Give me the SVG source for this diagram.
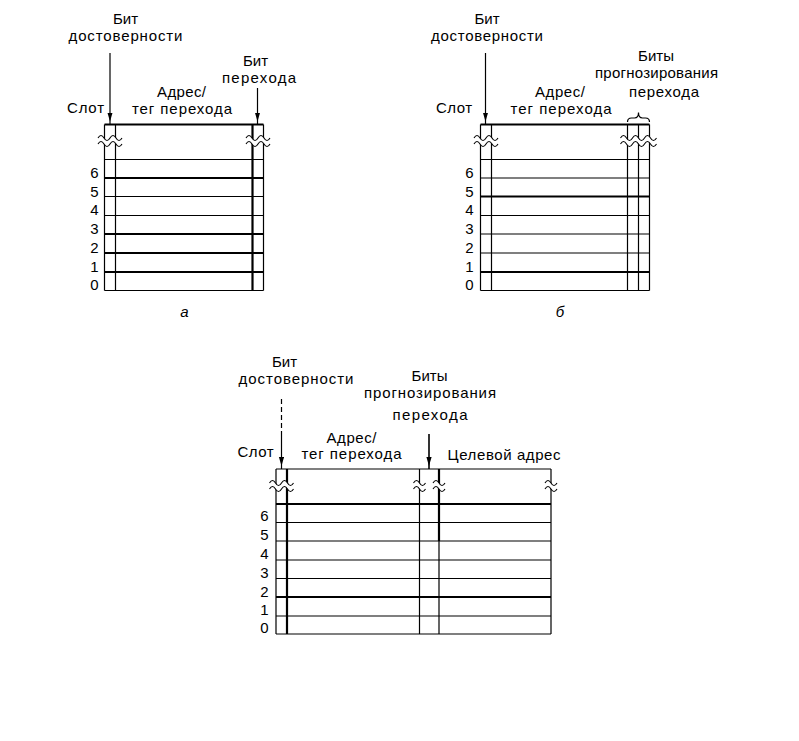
<svg xmlns="http://www.w3.org/2000/svg" xmlns:xlink="http://www.w3.org/1999/xlink" width="799" height="741" viewBox="0 0 799 741">
<style>
text{font-family:"Liberation Sans",Arial,sans-serif;font-size:15px;fill:#000}
.lb{text-anchor:middle}
.num{font-size:15px;text-anchor:end}
.cap{font-size:15px;font-style:italic;text-anchor:middle}
.ln{stroke:#000;stroke-width:1.2;fill:none}
.tk{stroke:#000;stroke-width:2.2;fill:none}
.ar{stroke:#000;stroke-width:1.2;fill:none;marker-end:url(#ah)}
.dash{stroke:#000;stroke-width:1.2;fill:none;stroke-dasharray:5 3}
.wf{fill:#fff;stroke:none}
.ws{fill:none;stroke:#000;stroke-width:1.1}
</style>
<defs>
<marker id="ah" markerUnits="userSpaceOnUse" markerWidth="14" markerHeight="8" refX="12" refY="2.6" orient="auto">
<path d="M0,0 L9,2.6 L0,5.2 Z" fill="#000"/>
</marker>
<g id="w1">
<path class="wf" d="M0,0 q3,-5 6,0 t6,0 L12,6 q-3,5 -6,0 t-6,0 Z"/>
<path class="ws" d="M0,0 q3,-5 6,0 t6,0 M0,6 q3,-5 6,0 t6,0"/>
</g>
<g id="w2">
<path class="wf" d="M0,0 q3,-5 6,0 t6,0 t6,0 t6,0 L24,6 q-3,5 -6,0 t-6,0 t-6,0 t-6,0 Z"/>
<path class="ws" d="M0,0 q3,-5 6,0 t6,0 t6,0 t6,0 M0,6 q3,-5 6,0 t6,0 t6,0 t6,0"/>
</g>
<g id="w3">
<path class="wf" d="M0,0 q3,-5 6,0 t6,0 t6,0 t6,0 t6,0 t6,0 L36,6 q-3,5 -6,0 t-6,0 t-6,0 t-6,0 t-6,0 t-6,0 Z"/>
<path class="ws" d="M0,0 q3,-5 6,0 t6,0 t6,0 t6,0 t6,0 t6,0 M0,6 q3,-5 6,0 t6,0 t6,0 t6,0 t6,0 t6,0"/>
</g>
</defs>
<rect width="799" height="741" fill="#fff"/>

<!-- Diagram a -->
<g id="table-a">
<path class="ln" d="M104.5,124.5 V290.5 M115.5,124.5 V290.5 M263.5,124.5 V290.5"/>
<path class="tk" d="M252.5,124.5 V290.5"/>
<path class="tk" d="M104.5,124.5 H263.5"/>
<path class="ln" d="M104.5,159.5 H263.5 M104.5,196.5 H263.5 M104.5,215.5 H263.5 M104.5,290.5 H263.5"/>
<path class="tk" d="M104.5,178 H263.5 M104.5,234 H263.5 M104.5,253 H263.5 M104.5,272 H263.5"/>
<use xlink:href="#w2" x="98" y="138"/>
<use xlink:href="#w2" x="246" y="138"/>
<text class="num" x="98.5" y="178">6</text>
<text class="num" x="98.5" y="196.5">5</text>
<text class="num" x="98.5" y="215">4</text>
<text class="num" x="98.5" y="234">3</text>
<text class="num" x="98.5" y="252.5">2</text>
<text class="num" x="98.5" y="271.5">1</text>
<text class="num" x="98.5" y="290">0</text>
</g>
<g id="labels-a">
<text class="lb" x="125.5" y="24">Бит</text>
<text class="lb" x="125.5" y="41" textLength="114">достоверности</text>
<text x="67" y="113" textLength="37">Слот</text>
<text class="lb" x="181.5" y="97" textLength="49">Адрес/</text>
<text class="lb" x="182" y="114" textLength="100">тег перехода</text>
<text class="lb" x="255.5" y="66">Бит</text>
<text class="lb" x="259" y="83" textLength="74">перехода</text>
<text class="cap" x="184.5" y="317">а</text>
</g>

<!-- Diagram b -->
<g id="table-b">
<path class="ln" d="M480.5,124.5 V290.5 M491.5,124.5 V290.5 M627.5,124.5 V290.5 M638.5,124.5 V290.5 M649.5,124.5 V290.5"/>
<path class="tk" d="M480.5,124.5 H649.5"/>
<path class="ln" d="M480.5,159.5 H649.5 M480.5,178 H649.5 M480.5,215.5 H649.5 M480.5,234 H649.5 M480.5,253 H649.5 M480.5,290.5 H649.5"/>
<path class="tk" d="M480.5,196.5 H649.5 M480.5,272 H649.5"/>
<use xlink:href="#w2" x="474" y="138"/>
<use xlink:href="#w3" x="620.5" y="138"/>
<path class="ln" d="M627.5,122 q0,-4 4,-4 h3 q4,0 4,-5.5 q0,5.5 4,5.5 h3 q4,0 4,4"/>
<text class="num" x="473.5" y="178">6</text>
<text class="num" x="473.5" y="196.5">5</text>
<text class="num" x="473.5" y="215">4</text>
<text class="num" x="473.5" y="234">3</text>
<text class="num" x="473.5" y="252.5">2</text>
<text class="num" x="473.5" y="271.5">1</text>
<text class="num" x="473.5" y="290">0</text>
</g>
<g id="labels-b">
<text class="lb" x="487" y="24">Бит</text>
<text class="lb" x="487" y="41" textLength="112">достоверности</text>
<text x="436" y="113" textLength="36">Слот</text>
<text class="lb" x="560" y="97" textLength="50">Адрес/</text>
<text class="lb" x="561" y="114" textLength="101">тег перехода</text>
<text class="lb" x="656" y="61">Биты</text>
<text class="lb" x="656.5" y="78" textLength="123">прогнозирования</text>
<text class="lb" x="664" y="97" textLength="70">перехода</text>
<text class="cap" x="560" y="317">б</text>
</g>

<!-- Diagram c -->
<g id="table-c">
<path class="ln" d="M276,469 V634 M419.5,469 V634 M551,469 V634 M439,541 V634"/>
<path class="tk" d="M287,469 V634 M439,469 V541"/>
<path class="ln" d="M276,469 H551"/>
<path class="ln" d="M276,522.5 H551 M276,541 H551 M276,560 H551 M276,578.5 H551 M276,616 H551 M276,634 H551"/>
<path class="tk" d="M276,504 H551 M276,597 H551"/>
<use xlink:href="#w2" x="269.5" y="483"/>
<use xlink:href="#w1" x="413.5" y="483"/>
<use xlink:href="#w1" x="433" y="483"/>
<use xlink:href="#w1" x="545" y="483"/>
<text class="num" x="268.5" y="521">6</text>
<text class="num" x="268.5" y="540">5</text>
<text class="num" x="268.5" y="559">4</text>
<text class="num" x="268.5" y="578">3</text>
<text class="num" x="268.5" y="596.5">2</text>
<text class="num" x="268.5" y="615">1</text>
<text class="num" x="268.5" y="633">0</text>
</g>
<g id="labels-c">
<text class="lb" x="284.5" y="367">Бит</text>
<text class="lb" x="296" y="383.5" textLength="115">достоверности</text>
<text x="237.5" y="457" textLength="36">Слот</text>
<text class="lb" x="351.5" y="442.5" textLength="50">Адрес/</text>
<text class="lb" x="351.5" y="459" textLength="100">тег перехода</text>
<text class="lb" x="429.5" y="381">Биты</text>
<text class="lb" x="430" y="398" textLength="132">прогнозирования</text>
<text class="lb" x="430" y="420" textLength="75">перехода</text>
<text x="447.5" y="459.5" textLength="113">Целевой адрес</text>
</g>

<!-- Connectors -->
<g id="connectors">
<path class="ar" d="M110,53 V124.5"/>
<path class="ar" d="M257.5,88 V124.5"/>
<path class="ar" d="M485.5,53 V124.5"/>
<path class="dash" d="M281.5,399 V436"/>
<path class="ar" d="M281.5,436 V469"/>
<path class="ar" d="M429,434 V469" style="stroke-width:1.6"/>
</g>
</svg>
